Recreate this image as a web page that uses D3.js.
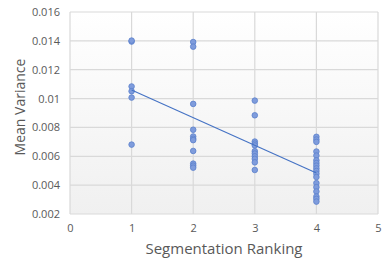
<!DOCTYPE html>
<html>
<head>
<meta charset="utf-8">
<script src="https://cdn.jsdelivr.net/npm/d3@7"></script>
<style>
  body { margin: 0; background: #fff; }
  text { font-family: "Open Sans", "Noto Sans", sans-serif; }
</style>
</head>
<body>
<div id="chart"></div>
<script>
// values (x = ranking, y = mean variance)
const rank1 = [0.01395, 0.01402, 0.01084, 0.01051, 0.01007, 0.00681];
const rank2 = [0.01392, 0.01360, 0.00963, 0.00784, 0.00737, 0.00721, 0.00712, 0.00637, 0.00549, 0.00535, 0.00521];
const rank3 = [0.00986, 0.00884, 0.00702, 0.00688, 0.00675, 0.00635, 0.00619, 0.00600, 0.00582, 0.00558, 0.00505];
const rank4 = [0.00735, 0.00716, 0.00700, 0.00633, 0.00605, 0.00572, 0.00553, 0.00535, 0.00516, 0.00498,
               0.00479, 0.00456, 0.00414, 0.00386, 0.00356, 0.00321, 0.00305, 0.00286];
const trendX = [1, 4];
const trendY = [0.0106, 0.00484];
const xTicks = [0, 1, 2, 3, 4, 5];
const yTicks = [0.002, 0.004, 0.006, 0.008, 0.01, 0.012, 0.014, 0.016];

const margin = { top: 12, right: 11, bottom: 55, left: 70 },
    width = 389 - margin.left - margin.right,
    height = 269 - margin.top - margin.bottom;

const svg = d3.select("#chart")
    .append("svg")
    .attr("width", 389)
    .attr("height", 269)
    .append("g")
    .attr("transform", `translate(${margin.left},${margin.top})`);

const x = d3.scaleLinear().domain([0, 5]).range([0, width]);
const y = d3.scaleLinear().domain([0.002, 0.016]).range([height, 0]);

// plot area background, faint fade to grey at the bottom
const grad = svg.append("defs").append("linearGradient")
    .attr("id", "bg").attr("x1", 0).attr("y1", 0).attr("x2", 0).attr("y2", 1);
grad.append("stop").attr("offset", "0%").attr("stop-color", "#ffffff");
grad.append("stop").attr("offset", "100%").attr("stop-color", "#f0f0f0");
svg.append("rect")
    .attr("width", width)
    .attr("height", height)
    .attr("fill", "url(#bg)");

// gridlines
svg.append("g")
    .selectAll("line")
    .data(yTicks)
    .join("line")
    .attr("x1", 0).attr("x2", width)
    .attr("y1", d => y(d)).attr("y2", d => y(d))
    .attr("stroke", "#d9d9d9")
    .attr("stroke-width", 1.2);
svg.append("g")
    .selectAll("line")
    .data(xTicks)
    .join("line")
    .attr("x1", d => x(d)).attr("x2", d => x(d))
    .attr("y1", 0).attr("y2", height)
    .attr("stroke", "#d9d9d9")
    .attr("stroke-width", 1.2);

// axes (labels only, Excel style)
const yAxis = svg.append("g")
    .call(d3.axisLeft(y).tickValues(yTicks).tickSize(0).tickPadding(10)
        .tickFormat(d => d === 0.01 ? "0.01" : d3.format(".3f")(d)));
yAxis.select(".domain").remove();
yAxis.selectAll("text")
    .attr("fill", "#595959")
    .style("font-size", "11px");

const xAxis = svg.append("g")
    .attr("transform", `translate(0,${height})`)
    .call(d3.axisBottom(x).tickValues(xTicks).tickSize(0).tickPadding(10)
        .tickFormat(d3.format("d")));
xAxis.select(".domain").remove();
xAxis.selectAll("text")
    .attr("fill", "#595959")
    .style("font-size", "11px");

// points
const points = [rank1, rank2, rank3, rank4]
    .flatMap((vals, i) => vals.map(v => ({ rank: i + 1, value: v })));

svg.append("g")
    .selectAll("circle")
    .data(points)
    .join("circle")
    .attr("cx", d => x(d.rank))
    .attr("cy", d => y(d.value))
    .attr("r", 2.8)
    .attr("fill", "#7f9cdc")
    .attr("stroke", "#5b80cc")
    .attr("stroke-width", 0.8);

// linear trendline
svg.append("line")
    .attr("x1", x(trendX[0])).attr("y1", y(trendY[0]))
    .attr("x2", x(trendX[1])).attr("y2", y(trendY[1]))
    .attr("stroke", "#4472c4")
    .attr("stroke-width", 1.1);

// axis titles
svg.append("text")
    .attr("x", width / 2)
    .attr("y", height + 40)
    .attr("text-anchor", "middle")
    .attr("fill", "#595959")
    .style("font-size", "15px")
    .text("Segmentation Ranking");

svg.append("text")
    .attr("transform", `translate(${-45},${height / 2 - 6}) rotate(-90)`)
    .attr("text-anchor", "middle")
    .attr("fill", "#595959")
    .style("font-size", "14px")
    .text("Mean Variance");
</script>
</body>
</html>
